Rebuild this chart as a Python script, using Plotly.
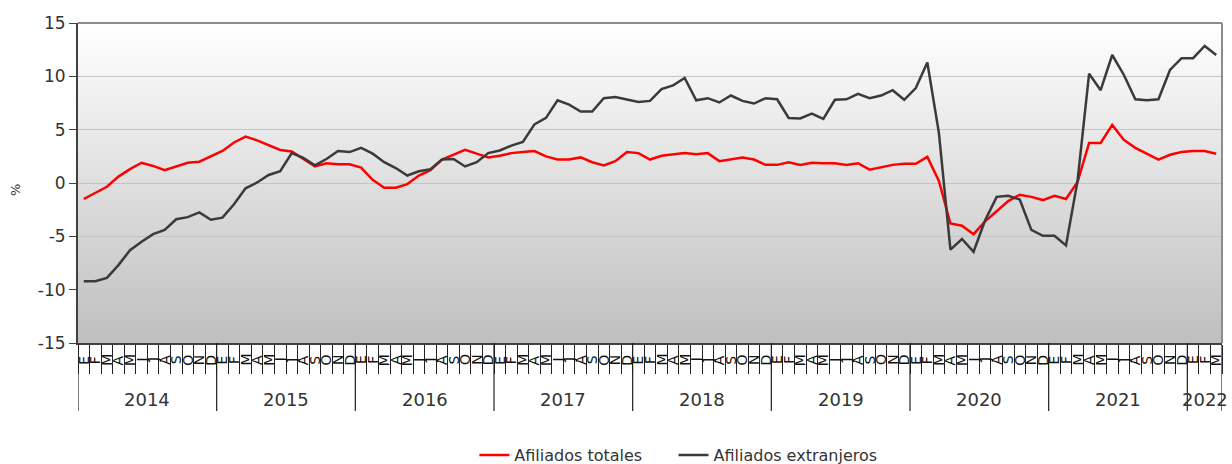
import base64
import plotly.graph_objects as go

# ---- data ----
years = [2014, 2015, 2016, 2017, 2018, 2019, 2020, 2021, 2022]
month_letters = ["E", "F", "M", "A", "M", "J", "J", "A", "S", "O", "N", "D"]
n_months_last_year = 3

afiliados_totales = [
    -1.5, -0.9, -0.35, 0.6, 1.3, 1.9, 1.6, 1.2, 1.55, 1.9, 2.0, 2.5,        # 2014
    3.0, 3.8, 4.35, 4.0, 3.55, 3.1, 2.95, 2.25, 1.55, 1.85, 1.75, 1.75,     # 2015
    1.45, 0.3, -0.45, -0.45, -0.1, 0.7, 1.2, 2.2, 2.65, 3.1, 2.75, 2.4,     # 2016
    2.55, 2.8, 2.9, 3.0, 2.5, 2.2, 2.2, 2.4, 1.95, 1.65, 2.05, 2.9,         # 2017
    2.8, 2.2, 2.55, 2.7, 2.8, 2.7, 2.8, 2.05, 2.25, 2.4, 2.2, 1.7,          # 2018
    1.7, 1.95, 1.7, 1.9, 1.85, 1.85, 1.7, 1.85, 1.25, 1.45, 1.7, 1.8,       # 2019
    1.8, 2.45, 0.2, -3.8, -4.0, -4.8, -3.6, -2.65, -1.7, -1.1, -1.3, -1.6,  # 2020
    -1.2, -1.5, 0.1, 3.75, 3.75, 5.45, 4.05, 3.3, 2.75, 2.2, 2.65, 2.9,     # 2021
    3.0, 3.0, 2.75,                                                         # 2022
]

afiliados_extranjeros = [
    -9.2, -9.2, -8.9, -7.7, -6.3, -5.5, -4.8, -4.4, -3.4, -3.2, -2.75, -3.45,  # 2014
    -3.25, -2.0, -0.5, 0.05, 0.75, 1.1, 2.8, 2.35, 1.65, 2.25, 3.0, 2.9,       # 2015
    3.3, 2.75, 1.95, 1.4, 0.7, 1.1, 1.3, 2.2, 2.25, 1.55, 1.95, 2.8,           # 2016
    3.05, 3.5, 3.85, 5.5, 6.1, 7.75, 7.35, 6.7, 6.7, 7.95, 8.05, 7.8,          # 2017
    7.6, 7.7, 8.8, 9.15, 9.85, 7.75, 7.95, 7.55, 8.2, 7.7, 7.45, 7.95,         # 2018
    7.85, 6.1, 6.05, 6.5, 6.0, 7.8, 7.85, 8.35, 7.95, 8.2, 8.7, 7.8,           # 2019
    8.9, 11.3, 4.7, -6.25, -5.25, -6.45, -3.5, -1.3, -1.2, -1.55, -4.4, -4.95, # 2020
    -4.95, -5.85, 0.2, 10.25, 8.7, 12.0, 10.15, 7.85, 7.75, 7.85, 10.6, 11.7,  # 2021
    11.7, 12.85, 12.0,                                                         # 2022
]

y_ticks = [-15, -10, -5, 0, 5, 10, 15]
y_tick_text = ["-15", "-10", "-5", "0", "5", "10", "15"]

# ---- derived category axis ----
periods, period_letters, period_year = [], [], []
for y in years:
    nm = n_months_last_year if y == years[-1] else 12
    for m in range(nm):
        periods.append(f"{y}-{m + 1:02d}")
        period_letters.append(month_letters[m])
        period_year.append(y)
N = len(periods)

FONT = "DejaVu Sans"
TXT = "#333333"

fig = go.Figure()
fig.add_trace(go.Scatter(x=periods, y=afiliados_totales, mode="lines",
                         name="Afiliados totales", legend="legend",
                         line=dict(color="#ff0000", width=2.5)))
fig.add_trace(go.Scatter(x=periods, y=afiliados_extranjeros, mode="lines",
                         name="Afiliados extranjeros", legend="legend2",
                         line=dict(color="#3a3a3a", width=2.5)))

# vertical gradient background as an SVG image
svg = ('<svg xmlns="http://www.w3.org/2000/svg" width="100" height="100" '
       'preserveAspectRatio="none"><defs><linearGradient id="g" x1="0" y1="0" x2="0" y2="1">'
       '<stop offset="0" stop-color="#ffffff"/><stop offset="1" stop-color="#bfbfbf"/>'
       '</linearGradient></defs><rect width="100" height="100" fill="url(#g)"/></svg>')
bg_src = "data:image/svg+xml;base64," + base64.b64encode(svg.encode()).decode()

shapes = []
# frame top and right
shapes.append(dict(type="line", xref="paper", yref="paper", x0=0, x1=1, y0=1, y1=1,
                   line=dict(color="#8c8c8c", width=2)))
shapes.append(dict(type="line", xref="paper", yref="paper", x0=1, x1=1, y0=0, y1=1,
                   line=dict(color="#8c8c8c", width=2)))

annotations = []
# month letters (rotated)
for p, letter in zip(periods, period_letters):
    annotations.append(dict(x=p, y=-0.053, xref="x", yref="paper", text=letter,
                            textangle=-90, showarrow=False,
                            xanchor="center", yanchor="middle",
                            font=dict(family=FONT, size=14, color="#111111")))

# year dividers and year labels
start = 0
for y in years:
    cnt = period_year.count(y)
    shapes.append(dict(type="line", xref="x", yref="paper",
                       x0=start - 0.5, x1=start - 0.5, y0=0, y1=-0.2125,
                       line=dict(color="#222222", width=1.2)))
    annotations.append(dict(x=start + (cnt - 1) / 2, y=-0.178, xref="x", yref="paper",
                            text=str(y), showarrow=False, yanchor="middle",
                            font=dict(family=FONT, size=18, color=TXT)))
    start += cnt
shapes.append(dict(type="line", xref="x", yref="paper",
                   x0=start - 0.5, x1=start - 0.5, y0=0, y1=-0.2125,
                   line=dict(color="#222222", width=1.2)))

annotations.append(dict(x=-0.055, y=0.478, xref="paper", yref="paper", text="%",
                        textangle=-90, showarrow=False, xanchor="center", yanchor="middle",
                        font=dict(family=FONT, size=13, color=TXT)))

legend_common = dict(orientation="h", xref="paper", xanchor="left",
                     yref="container", y=(464 - 455) / 464, yanchor="middle",
                     font=dict(family=FONT, size=16, color=TXT), bgcolor="rgba(0,0,0,0)")

fig.update_layout(
    width=1232, height=464,
    margin=dict(l=78, r=10, t=23, b=121),
    paper_bgcolor="white", plot_bgcolor="rgba(0,0,0,0)",
    images=[dict(source=bg_src, xref="paper", yref="paper", x=0, y=1,
                 sizex=1, sizey=1, sizing="stretch", xanchor="left", yanchor="top",
                 layer="below")],
    shapes=shapes, annotations=annotations,
    showlegend=True,
    legend=dict(x=(474 - 78) / 1143, **legend_common),
    legend2=dict(x=(673 - 78) / 1143, **legend_common),
    xaxis=dict(type="category", categoryorder="array", categoryarray=periods,
               range=[-0.5, N - 0.5],
               tickmode="array", tickvals=periods, showticklabels=False,
               tickson="boundaries", ticks="outside", ticklen=29,
               tickcolor="#222222", tickwidth=1,
               showline=True, linecolor="#404040", linewidth=2,
               showgrid=False, zeroline=False),
    xaxis2=dict(overlaying="x", anchor="free", position=0.5, type="linear",
                range=[-0.5, N - 0.5], tickmode="linear", tick0=-0.5, dtick=1,
                ticks="outside", ticklen=6, tickcolor="#333333", tickwidth=1.5,
                showticklabels=False, showline=True, linecolor="#333333", linewidth=2,
                showgrid=False, zeroline=False),
    yaxis=dict(range=[-15, 15], tickmode="array", tickvals=y_ticks, ticktext=y_tick_text,
               ticks="outside", ticklen=7, tickcolor="#404040",
               showline=True, linecolor="#404040", linewidth=2,
               gridcolor="#c4c4c4", gridwidth=1, zeroline=False,
               tickfont=dict(family=FONT, size=17, color=TXT)),
)

fig.write_html("out.html", config={"displayModeBar": False},
               post_script="document.body.style.margin='0px';")
